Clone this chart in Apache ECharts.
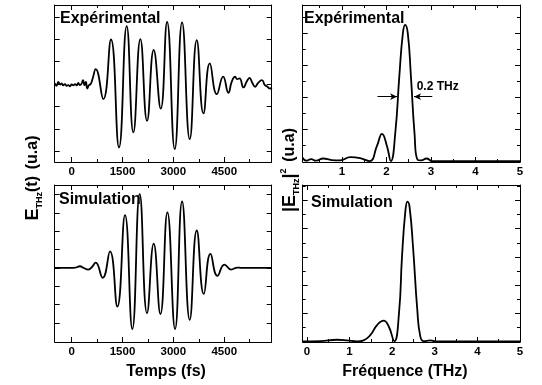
<!DOCTYPE html>
<html><head><meta charset="utf-8">
<script src="https://cdn.jsdelivr.net/npm/echarts@6/dist/echarts.min.js"></script>
<style>html,body{margin:0;padding:0;background:#fff}#c{width:542px;height:385px}</style>
</head><body><div id="c"></div>
<script>
// ---------- data ----------
const expTime = [-500,-445,-395,-340,-296,-250,-198,-150,-99,-50,0,50,97,150,196,240,294,335,380,420,460,510,560,620,708,934,1160,1397,1623,1820,2027,2224,2420,2627,2814,3040,3257,3483,3690,3887,4074,4281,4468,4625,4720,4822,4880,4950,5068,5160,5245,5330,5413,5500,5610,5700,5757,5856,5900];
const expField = [0.05,-0.08,0.1,-0.02,0.03,-0.06,0.0,-0.08,-0.05,-0.1,-0.02,-0.06,0.0,-0.06,0.05,-0.05,0.02,0.18,-0.05,0.1,-0.2,-0.05,0.0,0.25,0.67,-0.67,1.99,-2.83,2.59,-2.16,2.01,-1.64,1.52,-1.10,2.77,-2.90,2.75,-2.46,1.96,-1.31,0.92,-0.45,0.33,-0.39,0.1,0.33,0.22,0.25,-0.15,0.1,0.28,0.05,-0.12,0.05,0.18,-0.05,-0.1,-0.2,-0.15];

const simTime = [-500,0,100,245,350,491,600,708,915,1131,1347,1574,1790,2007,2224,2420,2617,2824,3050,3257,3483,3690,3897,4094,4300,4507,4704,4891,5000,5900];
const simField = [0,0,0.01,0.09,0,-0.09,0.05,0.29,-0.54,0.90,-2.11,2.88,-3.33,4.02,-2.47,1.32,-2.52,3.03,-3.33,3.62,-2.83,2.04,-1.42,0.77,-0.43,0.18,-0.09,0.02,0,0];

const expFreq = [0.12,0.2,0.31,0.42,0.58,0.77,0.96,1.19,1.41,1.62,1.79,1.90,2.01,2.10,2.20,2.29,2.37,2.42,2.48,2.55,2.63,2.70,2.78,2.90,3.03,3.5,4.0,4.5,5.0];
const expSpec = [0.12,0.02,0.07,0.02,0.09,0.04,0.03,0.13,0.10,0.01,0.49,0.86,0.49,0.01,0.90,2.66,4.0,4.26,4.0,2.66,0.90,0.05,0.03,0.09,0.01,0.01,0.01,0.01,0.01];

const simFreq = [-0.1,0.31,0.71,0.94,1.18,1.33,1.49,1.65,1.80,1.92,2.05,2.16,2.23,2.31,2.36,2.41,2.49,2.59,2.66,2.74,2.90,3.02,3.5,4.0,4.5,5.0];
const simSpec = [0,0.01,0.06,0.04,0,0.04,0.23,0.59,0.74,0.53,0.01,1.0,2.99,4.63,4.96,4.75,3.34,1.11,0.18,0.01,0.04,0,0,0,0,0];

// FWHM annotation (data units)
const fwhmFrom = [1.80, 3.03];
const fwhmTo = [2.24, 2.62];
const fwhmLevel = 2.02;
const fwhmText = '0.2 THz';

// tick labels
const timeLabels = [0,1500,3000,4500];
const timeMinor = [750,2250,3750,5250];
const freqLabelsTop = [1,2,3,4,5];
const freqLabelsBottom = [0,1,2,3,4,5];
const freqMinor = [0.5,1.5,2.5,3.5,4.5];
const fieldTicksExp = [-3,-2,-1,0,1,2,3];
const fieldTicksSim = [-3,-2,-1,0,1,2,3,4];
const specTicksExp = [1,2,3,4];
const specMinorExp = [0.5,1.5,2.5,3.5,4.5];
const specTicksSim = [1,2,3,4,5];
const specMinorSim = [0.5,1.5,2.5,3.5,4.5,5.5];

// ---------- layout ----------
const FONT = '"Liberation Sans", Arial, Helvetica, sans-serif';
const grids = [
  {left:54.7, top:5, width:217, height:157},
  {left:302.7, top:5, width:217.3, height:157},
  {left:54.7, top:185, width:217, height:157},
  {left:302.7, top:185, width:217.3, height:157}
];
const xAxes = [], yAxes = [];
function axisSet(list, g, c, dim) {
  const base = list.length;
  const positions = dim === 'x' ? ['bottom','top'] : ['left','right'];
  positions.forEach((p, pi) => {
    [['major',5],['minor',3]].forEach(([kind, len], ki) => {
      const vals = kind === 'major' ? c.major : (c.minor || []);
      list.push({
        type:'value', gridIndex:g, position:p, min:c.min, max:c.max,
        splitLine:{show:false},
        axisLine:{show: ki === 0, onZero:false, lineStyle:{color:'#000', width:1}},
        axisTick:{show: vals.length > 0, inside:true, length:len, customValues: vals, lineStyle:{color:'#000', width:1}},
        axisLabel:{show: pi === 0 && ki === 0 && !!c.labels, customValues: c.labels || [], color:'#000',
          fontWeight:'bold', fontSize:11.5, fontFamily:FONT, margin:4, formatter: v => String(v)}
      });
    });
  });
  return base;
}
const axCfg = [
  {x:{min:-500,max:5900,major:timeLabels,minor:timeMinor,labels:timeLabels}, y:{min:-3.48,max:3.53,major:fieldTicksExp}},
  {x:{min:0.12,max:5.0,major:freqLabelsTop,minor:freqMinor,labels:freqLabelsTop}, y:{min:-0.02,max:4.88,major:specTicksExp,minor:specMinorExp}},
  {x:{min:-500,max:5900,major:timeLabels,minor:timeMinor,labels:timeLabels}, y:{min:-4.04,max:4.52,major:fieldTicksSim}},
  {x:{min:-0.1,max:5.0,major:freqLabelsBottom,minor:freqMinor,labels:freqLabelsBottom}, y:{min:-0.02,max:5.55,major:specTicksSim,minor:specMinorSim}}
];
const idx = axCfg.map((c, g) => ({x: axisSet(xAxes, g, c.x, 'x'), y: axisSet(yAxes, g, c.y, 'y')}));

function pairs(a, b) { return a.map((v, i) => [v, b[i]]); }
const lineStyle = {color:'#000', width:1.8};
function lineSeries(g, xs, ys, extra) {
  return Object.assign({
    type:'line', xAxisIndex: idx[g].x, yAxisIndex: idx[g].y, data: pairs(xs, ys),
    showSymbol:false, smooth:0.5, lineStyle, itemStyle:{color:'#000'}, silent:true
  }, extra || {});
}

const series = [
  lineSeries(0, expTime, expField),
  lineSeries(1, expFreq, expSpec, {
    markLine: {
      silent:true, symbol:['none','arrow'], symbolSize:[5,7], label:{show:false},
      lineStyle:{color:'#000', width:1, type:'solid'},
      data: fwhmFrom.map((f, i) => [{coord:[f, fwhmLevel]}, {coord:[fwhmTo[i], fwhmLevel]}])
    }
  }),
  lineSeries(2, simTime, simField),
  lineSeries(3, simFreq, simSpec)
];

function txt(x, y, text, size, align) {
  return {type:'text', x, y, z:100, silent:true,
    style:{text, fill:'#000', fontSize:size, fontWeight:'bold', fontFamily:FONT, align: align || 'left', verticalAlign:'middle'}};
}
const rich = {
  e:{fontSize:18, fontWeight:'bold', fontFamily:FONT, fill:'#000', lineHeight:22},
  p:{fontSize:16, fontWeight:'bold', fontFamily:FONT, fill:'#000', lineHeight:22},
  s:{fontSize:9, fontWeight:'bold', fontFamily:FONT, fill:'#000', lineHeight:9, verticalAlign:'bottom'},
  sup:{fontSize:9, fontWeight:'bold', fontFamily:FONT, fill:'#000', lineHeight:9, verticalAlign:'top'}
};
const graphic = [
  txt(60, 19, 'Expérimental', 16),
  txt(304, 19, 'Expérimental', 16),
  txt(59, 200, 'Simulation', 16),
  txt(311, 203, 'Simulation', 16),
  txt(416.7, 87, fwhmText, 12),
  txt(166, 372, 'Temps (fs)', 16, 'center'),
  txt(405, 372, 'Fréquence (THz)', 16, 'center'),
  {type:'text', x:33, y:178, rotation:Math.PI/2, z:100, silent:true,
    style:{text:'{e|E}{s|THz}{p|(t)}  {p|(u.a)}', rich, align:'center', verticalAlign:'middle', fill:'#000'}},
  {type:'text', x:290, y:170, rotation:Math.PI/2, z:100, silent:true,
    style:{text:'{e||E}{s|THz}{e||}{sup|2}  {p|(u.a)}', rich, align:'center', verticalAlign:'middle', fill:'#000'}}
];

const chart = echarts.init(document.getElementById('c'), null, {renderer:'canvas'});
chart.setOption({
  animation:false,
  backgroundColor:'#fff',
  grid: grids.map(g => Object.assign({containLabel:false, show:false}, g)),
  xAxis: xAxes, yAxis: yAxes, series, graphic
});
</script></body></html>
